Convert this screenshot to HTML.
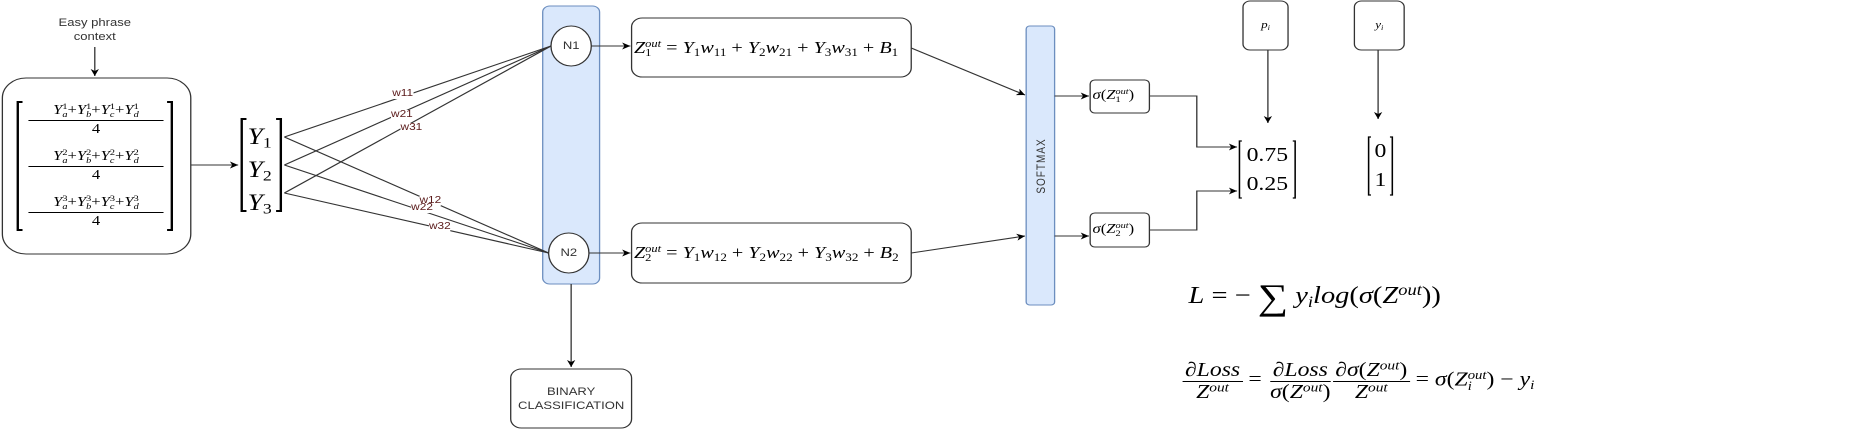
<!DOCTYPE html>
<html><head><meta charset="utf-8">
<style>
body{margin:0;width:1858px;height:430px;background:#fff;overflow:hidden;position:relative;font-family:"Liberation Sans",sans-serif}
#w{position:absolute;left:0;top:0;width:1568px;height:430px;transform:scaleX(1.18495);transform-origin:0 0}
svg{position:absolute;left:0;top:0}
.m{position:absolute;font-family:"Liberation Serif",serif;white-space:nowrap;color:#000;line-height:1}
.i{font-style:italic}
sub,sup{font-size:65%;line-height:0}
sup{vertical-align:0.5em}
sub{vertical-align:-0.25em}
.ss{display:inline-block;vertical-align:middle;line-height:0.9;font-size:62%;text-align:left}
.fr{display:inline-flex;flex-direction:column;align-items:center;vertical-align:middle}
.fr>span{display:block;padding:0 2px}
.fr>span:first-child{border-bottom:1px solid #000;padding-bottom:1px}
.lbl{position:absolute;font-size:10px;color:#5a1a1a;background:#fff;line-height:1}
.t{position:absolute;font-size:11px;color:#333;text-align:center;line-height:14px}
</style></head><body>
<div id="w">
<svg width="1568" height="430" viewBox="0 0 1568 430">
<defs><marker id="a" markerWidth="8" markerHeight="8" refX="7" refY="4" orient="auto" markerUnits="userSpaceOnUse"><path d="M0,0.5 L7,4 L0,7.5 L2,4 z" fill="#000"/></marker></defs>
<g fill="none" stroke="#333" stroke-width="1.1">
<line x1="80" y1="47" x2="80" y2="76" marker-end="url(#a)"/>
<rect x="2" y="78" width="159" height="176" rx="20" fill="#fff"/>
<line x1="161" y1="165" x2="201" y2="165" marker-end="url(#a)"/>
<rect x="458" y="6" width="48" height="278" rx="6" fill="#dae8fc" stroke="#6c8ebf"/>
<ellipse cx="482" cy="46" rx="17" ry="20" fill="#fff"/>
<ellipse cx="480" cy="253" rx="17" ry="20" fill="#fff"/>
<line x1="240" y1="137" x2="465" y2="46"/>
<line x1="240" y1="165" x2="465" y2="46"/>
<line x1="240" y1="193" x2="465" y2="46"/>
<line x1="240" y1="137" x2="463" y2="253"/>
<line x1="240" y1="165" x2="463" y2="253"/>
<line x1="240" y1="193" x2="463" y2="253"/>
<line x1="482" y1="284" x2="482" y2="367" marker-end="url(#a)"/>
<rect x="431" y="369" width="102" height="59" rx="9"/>
<line x1="499" y1="46" x2="532" y2="46" marker-end="url(#a)"/>
<line x1="497" y1="253" x2="532" y2="253" marker-end="url(#a)"/>
<rect x="533" y="18" width="236" height="59" rx="9"/>
<rect x="533" y="223" width="236" height="60" rx="9"/>
<line x1="769" y1="48" x2="865" y2="95" marker-end="url(#a)"/>
<line x1="769" y1="253" x2="865" y2="236" marker-end="url(#a)"/>
<rect x="866" y="26" width="24" height="279" rx="3" fill="#dae8fc" stroke="#6c8ebf"/>
<line x1="890" y1="96" x2="919" y2="96" marker-end="url(#a)"/>
<line x1="890" y1="236" x2="919" y2="236" marker-end="url(#a)"/>
<rect x="920" y="80" width="50" height="33" rx="4"/>
<rect x="920" y="213" width="50" height="34" rx="4"/>
<polyline points="970,96 1010,96 1010,147 1044,147" marker-end="url(#a)"/>
<polyline points="970,230 1010,230 1010,191 1044,191" marker-end="url(#a)"/>
<rect x="1049" y="1" width="38" height="49" rx="6"/>
<rect x="1143" y="1" width="42" height="49" rx="6"/>
<line x1="1070" y1="50" x2="1070" y2="123" marker-end="url(#a)"/>
<line x1="1163" y1="50" x2="1163" y2="119" marker-end="url(#a)"/>
</g>
<g fill="none" stroke="#000" stroke-width="2">
<polyline points="19,102 15,102 15,230 19,230"/>
<polyline points="141,102 145,102 145,230 141,230"/>
<polyline points="208,119 204,119 204,211 208,211"/>
<polyline points="233,119 237,119 237,211 233,211"/>
</g>
<g fill="none" stroke="#000" stroke-width="1.3">
<polyline points="1048,141 1046,141 1046,198 1048,198"/>
<polyline points="1091,141 1093,141 1093,198 1091,198"/>
<polyline points="1157,137 1155,137 1155,195 1157,195"/>
<polyline points="1173,137 1175,137 1175,195 1173,195"/>
</g>
<text x="0" y="0" transform="translate(882,166) rotate(-90)" font-family="Liberation Sans" font-size="10" fill="#333" text-anchor="middle" letter-spacing="1">SOFTMAX</text>
</svg>
<div class="t" style="left:40px;top:16px;width:80px">Easy phrase<br>context</div>
<div class="t" style="left:431px;top:385px;width:102px">BINARY<br>CLASSIFICATION</div>
<div class="t" style="left:465px;top:39px;width:34px">N1</div>
<div class="t" style="left:463px;top:246px;width:34px">N2</div>
<div class="lbl" style="left:331px;top:89px">w11</div>
<div class="lbl" style="left:330px;top:110px">w21</div>
<div class="lbl" style="left:338px;top:123px">w31</div>
<div class="lbl" style="left:354px;top:196px">w12</div>
<div class="lbl" style="left:347px;top:203px">w22</div>
<div class="lbl" style="left:362px;top:222px">w32</div>

<div class="m" style="left:24px;top:103px;width:114px;text-align:center;font-size:14px">
<div style="border-bottom:1px solid #000;padding-bottom:1px"><span class="i">Y</span><span class="ss">1<br><span class="i">a</span></span>+<span class="i">Y</span><span class="ss">1<br><span class="i">b</span></span>+<span class="i">Y</span><span class="ss">1<br><span class="i">c</span></span>+<span class="i">Y</span><span class="ss">1<br><span class="i">d</span></span></div><div style="padding-top:2px">4</div></div>
<div class="m" style="left:24px;top:149px;width:114px;text-align:center;font-size:14px">
<div style="border-bottom:1px solid #000;padding-bottom:1px"><span class="i">Y</span><span class="ss">2<br><span class="i">a</span></span>+<span class="i">Y</span><span class="ss">2<br><span class="i">b</span></span>+<span class="i">Y</span><span class="ss">2<br><span class="i">c</span></span>+<span class="i">Y</span><span class="ss">2<br><span class="i">d</span></span></div><div style="padding-top:2px">4</div></div>
<div class="m" style="left:24px;top:195px;width:114px;text-align:center;font-size:14px">
<div style="border-bottom:1px solid #000;padding-bottom:1px"><span class="i">Y</span><span class="ss">3<br><span class="i">a</span></span>+<span class="i">Y</span><span class="ss">3<br><span class="i">b</span></span>+<span class="i">Y</span><span class="ss">3<br><span class="i">c</span></span>+<span class="i">Y</span><span class="ss">3<br><span class="i">d</span></span></div><div style="padding-top:2px">4</div></div>

<div class="m" style="left:209px;top:120px;font-size:23px;line-height:33px"><span class="i">Y</span><sub>1</sub><br><span class="i">Y</span><sub>2</sub><br><span class="i">Y</span><sub>3</sub></div>

<div class="m" style="left:535px;top:39px;font-size:17px"><span class="i">Z</span><span class="ss"><span class="i">out</span><br>1</span> = <span class="i">Y</span><sub>1</sub><span class="i">w</span><sub>11</sub> + <span class="i">Y</span><sub>2</sub><span class="i">w</span><sub>21</sub> + <span class="i">Y</span><sub>3</sub><span class="i">w</span><sub>31</sub> + <span class="i">B</span><sub>1</sub></div>
<div class="m" style="left:535px;top:244px;font-size:17px"><span class="i">Z</span><span class="ss"><span class="i">out</span><br>2</span> = <span class="i">Y</span><sub>1</sub><span class="i">w</span><sub>12</sub> + <span class="i">Y</span><sub>2</sub><span class="i">w</span><sub>22</sub> + <span class="i">Y</span><sub>3</sub><span class="i">w</span><sub>32</sub> + <span class="i">B</span><sub>2</sub></div>

<div class="m" style="left:922px;top:88px;font-size:14px"><span class="i">σ</span>(<span class="i">Z</span><span class="ss"><span class="i">out</span><br>1</span>)</div>
<div class="m" style="left:922px;top:222px;font-size:14px"><span class="i">σ</span>(<span class="i">Z</span><span class="ss"><span class="i">out</span><br>2</span>)</div>

<div class="m" style="left:1049px;top:20px;width:38px;text-align:center;font-size:11px"><span class="i">p</span><sub class="i">i</sub></div>
<div class="m" style="left:1143px;top:20px;width:42px;text-align:center;font-size:11px"><span class="i">y</span><sub class="i">i</sub></div>

<div class="m" style="left:1047px;top:141px;width:45px;text-align:center;font-size:20px;line-height:29px">0.75<br>0.25</div>
<div class="m" style="left:1156px;top:137px;width:18px;text-align:center;font-size:20px;line-height:29px">0<br>1</div>

<div class="m" style="left:1003px;top:279px;font-size:24px"><span class="i">L</span> = − <span style="font-size:36px;vertical-align:-6px">∑</span> <span class="i">y</span><sub class="i">i</sub><span class="i">log</span>(<span class="i">σ</span>(<span class="i">Z</span><sup class="i">out</sup>))</div>

<div class="m" style="left:998px;top:360px;font-size:20px"><span class="fr"><span class="i">∂Loss</span><span><span class="i">Z</span><sup class="i">out</sup></span></span> = <span class="fr"><span class="i">∂Loss</span><span><span class="i">σ</span>(<span class="i">Z</span><sup class="i">out</sup>)</span></span><span class="fr"><span><span class="i">∂σ</span>(<span class="i">Z</span><sup class="i">out</sup>)</span><span><span class="i">Z</span><sup class="i">out</sup></span></span> = <span class="i">σ</span>(<span class="i">Z</span><span class="ss"><span class="i">out</span><br><span class="i">i</span></span>) − <span class="i">y</span><sub class="i">i</sub></div>
</div>
</body></html>
